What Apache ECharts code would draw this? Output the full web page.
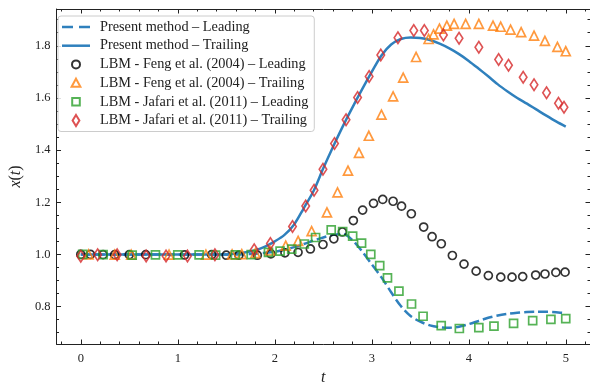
<!DOCTYPE html>
<html>
<head>
<meta charset="utf-8">
<script src="https://cdn.jsdelivr.net/npm/echarts@6/dist/echarts.min.js"></script>
<style>html,body{margin:0;padding:0;background:#fff}#c{width:590px;height:391px}</style>
</head>
<body>
<div id="c"></div>
<script>
// ---- data ----
const tCurve = [0, 0.5, 1.0, 1.5, 1.6, 1.7, 1.8, 1.9, 2.0, 2.1, 2.2, 2.3, 2.4, 2.5, 2.6, 2.7, 2.8, 2.9, 3.0, 3.1, 3.2, 3.3, 3.4, 3.5, 3.6, 3.7, 3.8, 3.9, 4.0, 4.1, 4.2, 4.3, 4.4, 4.5, 4.6, 4.7, 4.8, 4.9, 5.0];
const presentLeading = [1.0, 1.0, 1.0, 1.0, 1.0, 1.001, 1.003, 1.006, 1.01, 1.018, 1.028, 1.04, 1.053, 1.065, 1.075, 1.079, 1.055, 1.012, 0.962, 0.912, 0.855, 0.802, 0.764, 0.742, 0.728, 0.721, 0.719, 0.723, 0.733, 0.745, 0.757, 0.766, 0.772, 0.776, 0.779, 0.780, 0.780, 0.778, 0.775];
const presentTrailing = [1.0, 1.0, 1.0, 1.0, 1.003, 1.008, 1.016, 1.03, 1.05, 1.075, 1.115, 1.178, 1.243, 1.33, 1.412, 1.49, 1.563, 1.633, 1.70, 1.763, 1.805, 1.826, 1.832, 1.83, 1.822, 1.808, 1.79, 1.768, 1.742, 1.713, 1.683, 1.652, 1.625, 1.60, 1.578, 1.555, 1.532, 1.51, 1.49];

const fengLeadT = [0, 0.10, 0.23, 0.35, 0.50, 0.67, 1.07, 1.35, 1.50, 1.63, 1.82, 1.96, 2.105, 2.24, 2.367, 2.497, 2.609, 2.697, 2.81, 2.906, 3.018, 3.113, 3.22, 3.307, 3.408, 3.535, 3.622, 3.717, 3.831, 3.951, 4.076, 4.202, 4.33, 4.446, 4.556, 4.69, 4.786, 4.898, 4.993];
const fengLeadX = [1.0, 1.0, 0.999, 0.999, 0.999, 0.999, 0.998, 0.999, 0.997, 0.997, 0.997, 1.002, 1.006, 1.008, 1.021, 1.038, 1.06, 1.086, 1.13, 1.17, 1.196, 1.211, 1.204, 1.185, 1.156, 1.105, 1.068, 1.041, 0.996, 0.963, 0.936, 0.919, 0.913, 0.913, 0.915, 0.921, 0.925, 0.931, 0.932];

const fengTrailT = [0.08, 0.35, 0.52, 0.91, 1.29, 1.56, 1.66, 1.80, 1.95, 2.113, 2.241, 2.38, 2.538, 2.647, 2.755, 2.868, 2.97, 3.10, 3.22, 3.324, 3.457, 3.586, 3.637, 3.698, 3.774, 3.849, 3.968, 4.104, 4.25, 4.329, 4.431, 4.54, 4.673, 4.785, 4.914, 5.0];
const fengTrailX = [1.0, 0.999, 0.999, 0.999, 0.999, 1.0, 1.001, 1.005, 1.015, 1.034, 1.052, 1.089, 1.161, 1.238, 1.321, 1.389, 1.455, 1.536, 1.606, 1.678, 1.757, 1.826, 1.844, 1.866, 1.877, 1.884, 1.884, 1.884, 1.877, 1.873, 1.862, 1.852, 1.839, 1.819, 1.796, 1.779];

const jafariLeadT = [0.02, 0.23, 0.53, 0.77, 1.0, 1.22, 1.39, 1.594, 1.757, 1.935, 2.055, 2.175, 2.305, 2.421, 2.582, 2.70, 2.803, 2.895, 2.99, 3.082, 3.162, 3.28, 3.41, 3.529, 3.716, 3.903, 4.104, 4.26, 4.462, 4.659, 4.847, 5.0];
const jafariLeadX = [1.0, 0.999, 0.997, 0.998, 0.998, 0.998, 0.997, 0.998, 0.999, 1.008, 1.013, 1.02, 1.04, 1.065, 1.094, 1.088, 1.07, 1.043, 1.0, 0.957, 0.910, 0.859, 0.810, 0.763, 0.727, 0.716, 0.719, 0.725, 0.736, 0.746, 0.751, 0.754];

const jafariTrailT = [0, 0.174, 0.375, 0.674, 0.879, 1.10, 1.383, 1.788, 1.955, 2.183, 2.319, 2.405, 2.497, 2.616, 2.735, 2.854, 2.973, 3.093, 3.27, 3.433, 3.542, 3.739, 3.9, 4.104, 4.308, 4.41, 4.561, 4.673, 4.802, 4.925, 4.982];
const jafariTrailX = [0.993, 0.999, 0.999, 0.994, 0.994, 0.994, 0.999, 1.018, 1.042, 1.107, 1.186, 1.246, 1.327, 1.425, 1.516, 1.602, 1.682, 1.765, 1.831, 1.859, 1.859, 1.841, 1.829, 1.794, 1.747, 1.725, 1.679, 1.651, 1.62, 1.58, 1.564];

const seriesNames = [
  'Present method \u2013 Leading',
  'Present method \u2013 Trailing',
  'LBM - Feng et al. (2004) \u2013 Leading',
  'LBM - Feng et al. (2004) \u2013 Trailing',
  'LBM - Jafari et al. (2011) \u2013 Leading',
  'LBM - Jafari et al. (2011) \u2013 Trailing'
];
const xMajorTicks = [0, 1, 2, 3, 4, 5];
const xMinorTicks = [-0.2, 0.2, 0.4, 0.6, 0.8, 1.2, 1.4, 1.6, 1.8, 2.2, 2.4, 2.6, 2.8, 3.2, 3.4, 3.6, 3.8, 4.2, 4.4, 4.6, 4.8, 5.2];
const yMajorTicks = [0.8, 1.0, 1.2, 1.4, 1.6, 1.8];
const yMinorTicks = [0.7, 0.75, 0.85, 0.9, 0.95, 1.05, 1.1, 1.15, 1.25, 1.3, 1.35, 1.45, 1.5, 1.55, 1.65, 1.7, 1.75, 1.85, 1.9];

// ---- chart ----
const SERIF = 'Liberation Serif';
const zip = (a, b) => a.map((v, i) => [v, b[i]]);
const X_MIN = -0.25, X_MAX = 5.25, Y_MIN = 0.6566, Y_MAX = 1.941;

function mkX(pos, ticks, len, labels, line) {
  return {
    type: 'value', min: X_MIN, max: X_MAX, position: pos,
    axisLine: {show: line, onZero: false, lineStyle: {color: '#222', width: 1}},
    axisTick: {show: true, inside: true, length: len, customValues: ticks, lineStyle: {color: '#222', width: 1}},
    axisLabel: {show: labels, customValues: ticks, margin: 8, fontFamily: SERIF, fontSize: 12.5, color: '#222',
      formatter: v => String(v)},
    splitLine: {show: false}
  };
}
function mkY(pos, ticks, len, labels, line) {
  return {
    type: 'value', min: Y_MIN, max: Y_MAX, position: pos,
    axisLine: {show: line, onZero: false, lineStyle: {color: '#222', width: 1}},
    axisTick: {show: true, inside: true, length: len, customValues: ticks, lineStyle: {color: '#222', width: 1}},
    axisLabel: {show: labels, customValues: ticks, margin: 6, fontFamily: SERIF, fontSize: 12.5, color: '#222',
      formatter: v => v.toFixed(1)},
    splitLine: {show: false}
  };
}

const xAxes = [mkX('bottom', xMajorTicks, 4.5, true, true), mkX('bottom', xMinorTicks, 2.5, false, false),
               mkX('top', xMajorTicks, 4.5, false, true), mkX('top', xMinorTicks, 2.5, false, false)];
xAxes[0].name = '{i|t}';
xAxes[0].nameLocation = 'middle';
xAxes[0].nameGap = 26;
xAxes[0].nameTextStyle = {rich: {i: {fontFamily: SERIF, fontStyle: 'italic', fontSize: 16, color: '#222'}}};

const yAxes = [mkY('left', yMajorTicks, 4.5, true, true), mkY('left', yMinorTicks, 2.5, false, false),
               mkY('right', yMajorTicks, 4.5, false, true), mkY('right', yMinorTicks, 2.5, false, false)];
yAxes[0].name = '{i|x}{n|(}{i|t}{n|)}';
yAxes[0].nameLocation = 'middle';
yAxes[0].nameGap = 26;
yAxes[0].nameRotate = 90;
yAxes[0].nameTextStyle = {rich: {
  i: {fontFamily: SERIF, fontStyle: 'italic', fontSize: 16, color: '#222'},
  n: {fontFamily: SERIF, fontSize: 16, color: '#222'}}};

const BLUE = '#2f80bd';
function scat(name, t, x, symbol, size, color) {
  return {
    name, type: 'scatter', data: zip(t, x), symbol, symbolSize: size,
    itemStyle: {color: 'rgba(0,0,0,0)', borderColor: color, borderWidth: 1.7},
    emphasis: {disabled: true}, silent: true
  };
}
// legend icons (corner moves fix the icon box so shapes keep their size)
const ICON_SOLID = 'path://M0,0M28,12M0,4.75h28v2.5h-28z';
const ICON_DASH = 'path://M0,0M28,12M0,4.75h11v2.5h-11zM17,4.75h11v2.5h-11z';
const ICON_CIRCLE = 'path://M0,0M12,12M10,6A4,4,0,1,1,2,6A4,4,0,1,1,10,6Z';
const ICON_TRI = 'path://M0,0M12,12M6,1.6L10.4,9.6L1.6,9.6Z';
const ICON_RECT = 'path://M0,0M12,12M2.2,2.2h7.6v7.6h-7.6z';
const ICON_DIAM = 'path://M0,0M12,12M6,0.4L9.4,6L6,11.6L2.6,6Z';
const legendIcons = [ICON_DASH, ICON_SOLID, ICON_CIRCLE, ICON_TRI, ICON_RECT, ICON_DIAM];

const chart = echarts.init(document.getElementById('c'), null, {renderer: 'canvas'});
chart.setOption({
  animation: false,
  backgroundColor: '#fff',
  grid: {left: 52.8, top: 9, width: 538.3, height: 343.7, containLabel: false},
  xAxis: xAxes,
  yAxis: yAxes,
  legend: {
    orient: 'vertical', left: 58, top: 16,
    padding: [3, 6, 3, 4],
    itemWidth: 28, itemHeight: 12, itemGap: 2.7, symbolKeepAspect: true,
    backgroundColor: 'rgba(255,255,255,0.85)',
    borderColor: '#cccccc', borderWidth: 1, borderRadius: 3,
    textStyle: {fontFamily: SERIF, fontSize: 14.3, color: '#222', lineHeight: 16, padding: [0, 0, 0, 5]},
    data: seriesNames.map((n, i) => ({name: n, icon: legendIcons[i]}))
  },
  series: [
    {name: seriesNames[0], type: 'line', data: zip(tCurve, presentLeading), symbol: 'none', smooth: 0.3,
     lineStyle: {color: BLUE, width: 2.5, type: [10, 4]}, itemStyle: {color: BLUE}, z: 2},
    {name: seriesNames[1], type: 'line', data: zip(tCurve, presentTrailing), symbol: 'none', smooth: 0.3,
     lineStyle: {color: BLUE, width: 2.5}, itemStyle: {color: BLUE}, z: 2},
    scat(seriesNames[2], fengLeadT, fengLeadX, 'circle', 8, '#000000'),
    scat(seriesNames[3], fengTrailT, fengTrailX, 'triangle', 9, '#ff7f0e'),
    scat(seriesNames[4], jafariLeadT, jafariLeadX, 'rect', 8, '#2ca02c'),
    scat(seriesNames[5], jafariTrailT, jafariTrailX, 'diamond', [7.5, 11.5], '#d62728')
  ]
});
</script>
</body>
</html>
